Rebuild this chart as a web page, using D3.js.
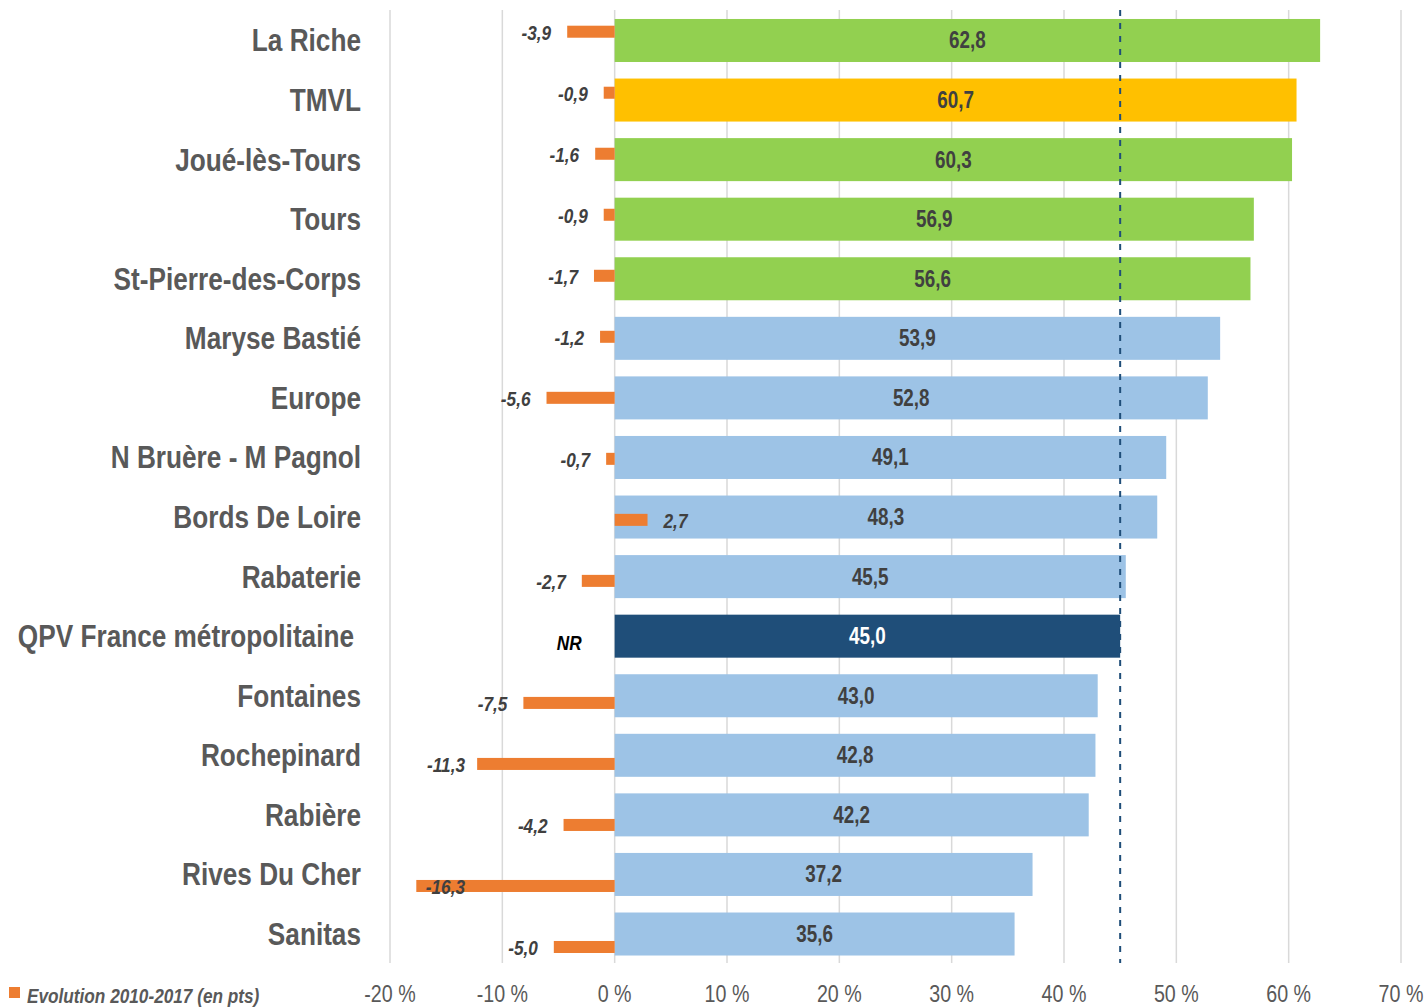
<!doctype html>
<html lang="fr">
<head>
<meta charset="utf-8">
<title>Taux - QPV Tours Métropole</title>
<script src="https://d3js.org/d3.v7.min.js"></script>
<style>
  body { margin: 0; background: #fff; }
  svg text { font-family: "Liberation Sans", Arial, sans-serif; }
</style>
</head>
<body>
<script>
// categories, top to bottom
var categories = ["La Riche", "TMVL", "Joué-lès-Tours", "Tours", "St-Pierre-des-Corps",
  "Maryse Bastié", "Europe", "N Bruère - M Pagnol", "Bords De Loire", "Rabaterie",
  "QPV France métropolitaine", "Fontaines", "Rochepinard", "Rabière", "Rives Du Cher", "Sanitas"];

// main value (%)
var values = [62.8, 60.7, 60.3, 56.9, 56.6, 53.9, 52.8, 49.1, 48.3, 45.5, 45.0, 43.0, 42.8, 42.2, 37.2, 35.6];

// evolution 2010-2017 (pts), null = NR
var evolution = [-3.9, -0.9, -1.6, -0.9, -1.7, -1.2, -5.6, -0.7, 2.7, -2.7, null, -7.5, -11.3, -4.2, -16.3, -5.0];

// type of territory, drives bar colour
var kinds = ["commune", "metropole", "commune", "commune", "commune",
  "qpv", "qpv", "qpv", "qpv", "qpv", "france", "qpv", "qpv", "qpv", "qpv", "qpv"];

var ticks = [-20, -10, 0, 10, 20, 30, 40, 50, 60, 70];
var reference = 45.0;
var legendLabel = "Evolution 2010-2017 (en pts)";

var colors = { commune: "#92D050", metropole: "#FFC000", qpv: "#9DC3E6", france: "#1F4E79" };
var orange = "#ED7D31";

var width = 1427, height = 1008;
var gridTop = 10, gridBottom = 963;
var narrow = 0.82; // no Arial Narrow here, so squeeze the text horizontally

var svg = d3.select("body").append("svg")
  .attr("width", width)
  .attr("height", height);

// put a text at (px, py) and condense it
function place(sel, px, py, sx) {
  sel.attr("x", 0).attr("y", 0)
    .attr("transform", (d, i) => "translate(" + px(d, i) + "," + py(d, i) + ") scale(" + (sx || narrow) + ",1)");
}

var x = d3.scaleLinear().domain([-20, 70]).range([390, 1401]);

// secondary axis for the evolution bars (same zero, other scale)
var k = 12.17;
var xEvo = d3.scaleLinear().domain([-20, 70]).range([x(0) - 20 * k, x(0) + 70 * k]);

var y = d3.scaleBand().domain(categories).range([10.7, 963.8]).paddingInner(0.278).paddingOuter(0.139);
var yEvo = d3.scaleBand().domain(categories).range([1.2, 977.5]).paddingInner(0.803).paddingOuter(0.4015);

// gridlines
svg.append("g").selectAll("line")
  .data(ticks)
  .enter().append("line")
  .attr("x1", d => x(d)).attr("x2", d => x(d))
  .attr("y1", gridTop).attr("y2", gridBottom)
  .attr("stroke", "#D9D9D9")
  .attr("stroke-width", 1.5);

// tick labels
svg.append("g").selectAll("text")
  .data(ticks)
  .enter().append("text")
  .call(place, d => x(d), () => 1002)
  .attr("text-anchor", "middle")
  .attr("fill", "#595959")
  .style("font-size", "24px")
  .text(d => d + " %");

var rows = categories.map((c, i) => ({ cat: c, value: values[i], evo: evolution[i], kind: kinds[i] }));

// main bars
svg.append("g").selectAll("rect")
  .data(rows)
  .enter().append("rect")
  .attr("x", x(0))
  .attr("y", d => y(d.cat))
  .attr("width", d => x(d.value) - x(0))
  .attr("height", y.bandwidth())
  .attr("fill", d => colors[d.kind]);

// evolution bars
svg.append("g").selectAll("rect")
  .data(rows.filter(d => d.evo !== null))
  .enter().append("rect")
  .attr("x", d => Math.min(xEvo(0), xEvo(d.evo)))
  .attr("y", d => yEvo(d.cat))
  .attr("width", d => Math.abs(xEvo(d.evo) - xEvo(0)))
  .attr("height", yEvo.bandwidth())
  .attr("fill", orange);

// reference dashed line
svg.append("line")
  .attr("x1", x(reference)).attr("x2", x(reference))
  .attr("y1", gridTop).attr("y2", gridBottom)
  .attr("stroke", "#1F4E79")
  .attr("stroke-width", 2)
  .attr("stroke-dasharray", "6,7");

// value labels in bars
svg.append("g").selectAll("text")
  .data(rows)
  .enter().append("text")
  .call(place, d => (x(0) + x(d.value)) / 2, d => y(d.cat) + y.bandwidth() / 2 + 8)
  .attr("text-anchor", "middle")
  .attr("fill", d => d.kind === "france" ? "#FFFFFF" : "#404040")
  .style("font-size", "23px")
  .style("font-weight", "bold")
  .text(d => d.value.toFixed(1).replace(".", ","));

// evolution labels
var fmt = v => v.toFixed(1).replace(".", ",");
svg.append("g").selectAll("text")
  .data(rows)
  .enter().append("text")
  .call(place, d => {
    if (d.evo === null) return xEvo(0) - 33;
    if (d.evo >= 0) return xEvo(d.evo) + 16;
    return Math.max(xEvo(d.evo) - 16, 465);
  }, d => yEvo(d.cat) + yEvo.bandwidth() / 2 + 8)
  .attr("text-anchor", d => (d.evo !== null && d.evo >= 0) ? "start" : "end")
  .attr("fill", d => d.evo === null ? "#000000" : "#404040")
  .style("font-size", "21px")
  .style("font-weight", "bold")
  .style("font-style", "italic")
  .text(d => d.evo === null ? "NR" : fmt(d.evo));

// category labels
svg.append("g").selectAll("text")
  .data(rows)
  .enter().append("text")
  .call(place, d => d.kind === "france" ? 354 : 361, d => y(d.cat) + y.bandwidth() / 2 + 11, 0.845)
  .attr("text-anchor", "end")
  .attr("fill", "#595959")
  .style("font-size", "31px")
  .style("font-weight", "bold")
  .text(d => d.cat);

// legend
var legend = svg.append("g").attr("transform", "translate(9,987)");
legend.append("rect")
  .attr("width", 11).attr("height", 11)
  .attr("fill", orange);
legend.append("text")
  .call(place, () => 18, () => 16)
  .attr("fill", "#595959")
  .style("font-size", "21px")
  .style("font-weight", "bold")
  .style("font-style", "italic")
  .text(legendLabel);
</script>
</body>
</html>
